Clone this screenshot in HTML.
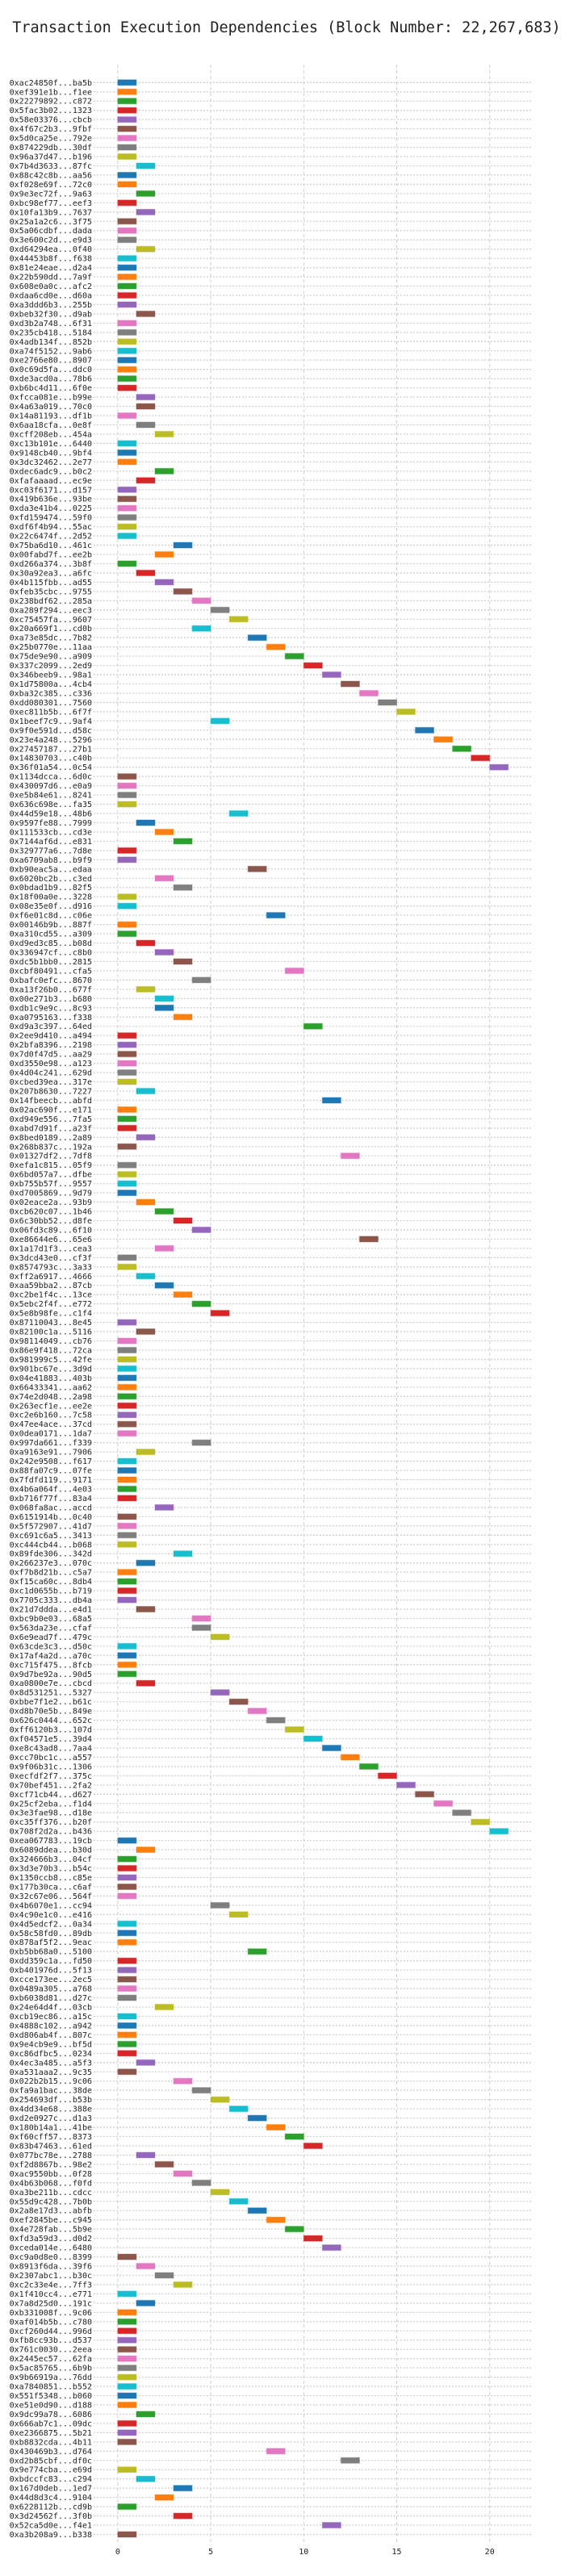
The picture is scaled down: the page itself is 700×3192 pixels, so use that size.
<!DOCTYPE html>
<html><head><meta charset="utf-8"><title>Transaction Execution Dependencies</title>
<style>
html,body{margin:0;padding:0;background:#fff;}
svg{display:block;}
text{font-family:"DejaVu Sans Mono","Liberation Mono",monospace;fill:#222;}
</style></head>
<body>
<svg id="chart" width="700" height="3192" viewBox="0 0 700 3192" xmlns="http://www.w3.org/2000/svg">
<text x="355" y="40" text-anchor="middle" font-size="18.5">Transaction Execution Dependencies (Block Number: 22,267,683)</text>
<g id="grid"></g>
<g id="rows"></g>
<g id="bars"></g>
<g id="xaxis"></g>
</svg>
<script>
const labels = ["0xac24850f...ba5b","0xef391e1b...f1ee","0x22279892...c872","0x5fac3b02...1323","0x58e03376...cbcb","0x4f67c2b3...9fbf","0x5d0ca25e...792e","0x874229db...30df","0x96a37d47...b196","0x7b4d3633...87fc","0x88c42c8b...aa56","0xf028e69f...72c0","0x9e3ec72f...9a63","0xbc98ef77...eef3","0x10fa13b9...7637","0x25a1a2c6...3f75","0x5a06cdbf...dada","0x3e600c2d...e9d3","0xd64294ea...0f40","0x44453b8f...f638","0x81e24eae...d2a4","0x22b590dd...7a9f","0x608e0a0c...afc2","0xdaa6cd0e...d60a","0xa3ddd6b3...255b","0xbeb32f30...d9ab","0xd3b2a748...6f31","0x235cb418...5184","0x4adb134f...852b",
"0xa74f5152...9ab6","0xe2766e80...8907","0x0c69d5fa...ddc0","0xde3acd0a...78b6","0xb6bc4d11...6f0e","0xfcca081e...b99e","0x4a63a019...70c0","0x14a81193...df1b","0x6aa18cfa...0e8f","0xcff208eb...454a","0xc13b101e...6440","0x9148cb40...9bf4","0x3dc32462...2e77","0xdec6adc9...b0c2","0xfafaaaad...ec9e","0xc03f6171...d157","0x419b636e...93be","0xda3e41b4...0225","0xfd159474...59f0","0xdf6f4b94...55ac","0x22c6474f...2d52","0x75ba6d10...461c","0x00fabd7f...ee2b","0xd266a374...3b8f","0x30a92ea3...a6fc","0x4b115fbb...ad55","0xfeb35cbc...9755","0x238bdf62...285a","0xa289f294...eec3","0xc75457fa...9607",
"0x20a669f1...cd0b","0xa73e85dc...7b82","0x25b0770e...11aa","0x75de9e90...a909","0x337c2099...2ed9","0x346beeb9...98a1","0x1d75800a...4cb4","0xba32c385...c336","0xdd080301...7560","0xec811b5b...6f7f","0x1beef7c9...9af4","0x9f0e591d...d58c","0x23e4a248...5296","0x27457187...27b1","0x14830703...c40b","0x36f01a54...0c54","0x1134dcca...6d0c","0x430097d6...e0a9","0xe5b84e61...8241","0x636c698e...fa35","0x44d59e18...48b6","0x9597fe88...7999","0x111533cb...cd3e","0x7144af6d...e831","0x329777a6...7d8e","0xa6709ab8...b9f9","0xb90eac5a...edaa","0x6020bc2b...c3ed",
"0x0bdad1b9...82f5","0x18f00a0e...3228","0x08e35e0f...d916","0xf6e01c8d...c06e","0x00146b9b...887f","0xa310cd55...a309","0xd9ed3c85...b08d","0x336947cf...c8b0","0xdc5b1bb0...2815","0xcbf80491...cfa5","0xbafc0efc...8670","0xa13f26b0...677f","0x00e271b3...b680","0xdb1c9e9c...8c93","0xa0795163...f338","0xd9a3c397...64ed","0x2ee9d410...a494","0x2bfa8396...2198","0x7d0f47d5...aa29","0xd3550e98...a123","0x4d04c241...629d","0xcbed39ea...317e","0x207b8630...7227","0x14fbeecb...abfd","0x02ac690f...e171","0xd949e556...7fa5","0xabd7d91f...a23f","0x8bed0189...2a89","0x268b837c...192a","0x01327df2...7df8",
"0xefa1c815...05f9","0x6bd057a7...dfbe","0xb755b57f...9557","0xd7005869...9d79","0x02eace2a...93b9","0xcb620c07...1b46","0x6c30bb52...d8fe","0x06fd3c89...6f10","0xe86644e6...65e6","0x1a17d1f3...cea3","0x3dcd43e0...cf3f","0x8574793c...3a33","0xff2a6917...4666","0xaa59bba2...87cb","0xc2be1f4c...13ce","0x5ebc2f4f...e772","0x5e8b98fe...c1f4","0x87110043...8e45","0x82100c1a...5116","0x98114049...cb76","0x86e9f418...72ca","0x981999c5...42fe","0x901bc67e...3d9d","0x04e41883...403b","0x66433341...aa62","0x74e2d048...2a98","0x263ecf1e...ee2e","0xc2e6b160...7c58","0x47ee4ace...37cd",
"0x0dea0171...1da7","0x997da661...f339","0xa9163e91...7906","0x242e9508...f617","0x88fa07c9...07fe","0x7fdfd119...9171","0x4b6a064f...4e03","0xb716f77f...83a4","0x068fa8ac...accd","0x6151914b...0c40","0x5f572907...41d7","0xc691c6a5...3413","0xc444cb44...b068","0x89fde306...342d","0x266237e3...070c","0xf7b8d21b...c5a7","0xf15ca60c...8db4","0xc1d0655b...b719","0x7705c333...db4a","0x21d7ddda...e4d1","0xbc9b0e03...68a5","0x563da23e...cfaf","0x6e9ead7f...479c","0x63cde3c3...d50c","0x17af4a2d...a70c","0xc715f475...8fcb","0x9d7be92a...90d5",
"0xa0800e7e...cbcd","0x8d531251...5327","0xbbe7f1e2...b61c","0xd8b70e5b...849e","0x626c0444...652c","0xff6120b3...107d","0xf04571e5...39d4","0xe8c43ad8...7aa4","0xcc70bc1c...a557","0x9f06b31c...1306","0xecfdf2f7...375c","0x70bef451...2fa2","0xcf71cb44...d627","0x25cf2eba...f1d4","0x3e3fae98...d18e","0xc35ff376...b20f","0x708f2d2a...b436","0xea067783...19cb","0x6089ddea...b30d","0x324666b3...04cf","0x3d3e70b3...b54c","0x1350ccb8...c85e","0x177b30ca...c6af","0x32c67e06...564f","0x4b6070e1...cc94","0x4c90e1c0...e416",
"0x4d5edcf2...0a34","0x58c58fd0...89db","0x878af5f2...9eac","0xb5bb68a0...5100","0xdd359c1a...fd50","0xb401976d...5f13","0xcce173ee...2ec5","0x0489a305...a768","0xb6038d81...d27c","0x24e64d4f...03cb","0xcb19ec86...a15c","0x4888c102...a942","0xd806ab4f...807c","0x9e4cb9e9...bf5d","0xc86dfbc5...0234","0x4ec3a485...a5f3","0xa531aaa2...9c35","0x022b2b15...9c06","0xfa9a1bac...38de","0x254693df...b53b","0x4dd34e68...388e","0xd2e0927c...d1a3","0x180b14a1...41be","0xf60cff57...8373","0x83b47463...61ed","0x077bc78e...2788","0xf2d8867b...98e2",
"0xac9550bb...0f28","0x4b63b068...f0fd","0xa3be211b...cdcc","0x55d9c428...7b0b","0x2a8e17d3...abfb","0xef2845be...c945","0x4e728fab...5b9e","0xfd3a59d3...d0d2","0xceda014e...6480","0xc9a0d8e0...8399","0x8913f6da...39f6","0x2307abc1...b30c","0xc2c33e4e...7ff3","0x1f410cc4...e771","0x7a8d25d0...191c","0xb331008f...9c06","0xaf014b5b...c780","0xcf260d44...996d","0xfb8cc93b...d537","0x761c0030...2eea","0x2445ec57...62fa","0x5ac85765...6b9b","0x9b66919a...76dd","0xa7840851...b552","0x551f5348...b060","0xe51e0d90...d188","0x9dc99a78...6086","0x666ab7c1...09dc",
"0xe2366875...5b21","0xb8832cda...4b11","0x430469b3...d764","0xd2b85cbf...df0c","0x9e774cba...e69d","0xbdccfc83...c294","0x167d0deb...1ed7","0x44d8d3c4...9104","0x6228112b...cd9b","0x3d24562f...3f0b","0x52ca5d0e...f4e1","0xa3b208a9...b338"];
const levels = [0,0,0,0,0,0,0,0,0,1,0,0,1,0,1,0,0,0,1,0,0,0,0,0,0,1,0,0,0,
0,0,0,0,0,1,1,0,1,2,0,0,0,2,1,0,0,0,0,0,0,3,2,0,1,2,3,4,5,6,
4,7,8,9,10,11,12,13,14,15,5,16,17,18,19,20,0,0,0,0,6,1,2,3,0,0,7,2,
3,0,0,8,0,0,1,2,3,9,4,1,2,2,3,10,0,0,0,0,0,0,1,11,0,0,0,1,0,12,
0,0,0,0,1,2,3,4,13,2,0,0,1,2,3,4,5,0,1,0,0,0,0,0,0,0,0,0,0,
0,4,1,0,0,0,0,0,2,0,0,0,0,3,1,0,0,0,0,1,4,4,5,0,0,0,0,
1,5,6,7,8,9,10,11,12,13,14,15,16,17,18,19,20,0,1,0,0,0,0,0,5,6,
0,0,0,7,0,0,0,0,0,2,0,0,0,0,0,1,0,3,4,5,6,7,8,9,10,1,2,
3,4,5,6,7,8,9,10,11,0,1,2,3,0,1,0,0,0,0,0,0,0,0,0,0,0,1,0,
0,0,8,12,0,1,3,2,0,3,11,0];
const xTicks = [0,5,10,15,20];
const palette = ["#1f77b4","#ff7f0e","#2ca02c","#d62728","#9467bd","#8c564b","#e377c2","#7f7f7f","#bcbd22","#17becf"];

const NS = "http://www.w3.org/2000/svg";
const X0 = 145.9, PX = 23.04;
const Y0 = 102.3, Y1 = 3140.5;
const step = (Y1 - Y0) / (labels.length - 1);
function xScale(v){ return X0 + v * PX; }
function yScale(i){ return Y0 + i * step; }
function mk(tag, attrs){ const e = document.createElementNS(NS, tag); for (const k in attrs) e.setAttribute(k, attrs[k]); return e; }

const grid = document.getElementById('grid');
const rows = document.getElementById('rows');
const bars = document.getElementById('bars');
const xaxis = document.getElementById('xaxis');

xTicks.forEach(t => {
  const x = xScale(t);
  const gl = mk('line', {x1:x, x2:x, y1:80, y2:3150, stroke:'#cfcfcf', 'stroke-width':1, 'stroke-dasharray':'4,3'});
  
  
  grid.appendChild(gl);
  const tl = mk('text', {x:x, y:3165, 'text-anchor':'middle', 'font-size':10});
  tl.textContent = t;
  
  
  xaxis.appendChild(tl);
});

labels.forEach((lab, i) => {
  const y = yScale(i);
  const rl = mk('line', {x1:116, x2:658, y1:y, y2:y, stroke:'#cfcfcf', 'stroke-width':1.3, 'stroke-dasharray':'2,2'});
  
  
  rows.appendChild(rl);
  const t = mk('text', {x:114, y:y + 3.5, 'text-anchor':'end', 'font-size':10});
  t.textContent = lab;
  
  
  rows.appendChild(t);
  const c = palette[i % 10];
  const r = mk('rect', {x:xScale(levels[i]), y:y - 3.5, width:PX, height:7, fill:c, stroke:c, 'stroke-opacity':0.35, 'stroke-width':1.2});
  
  
  bars.appendChild(r);
});
</script>
</body></html>
